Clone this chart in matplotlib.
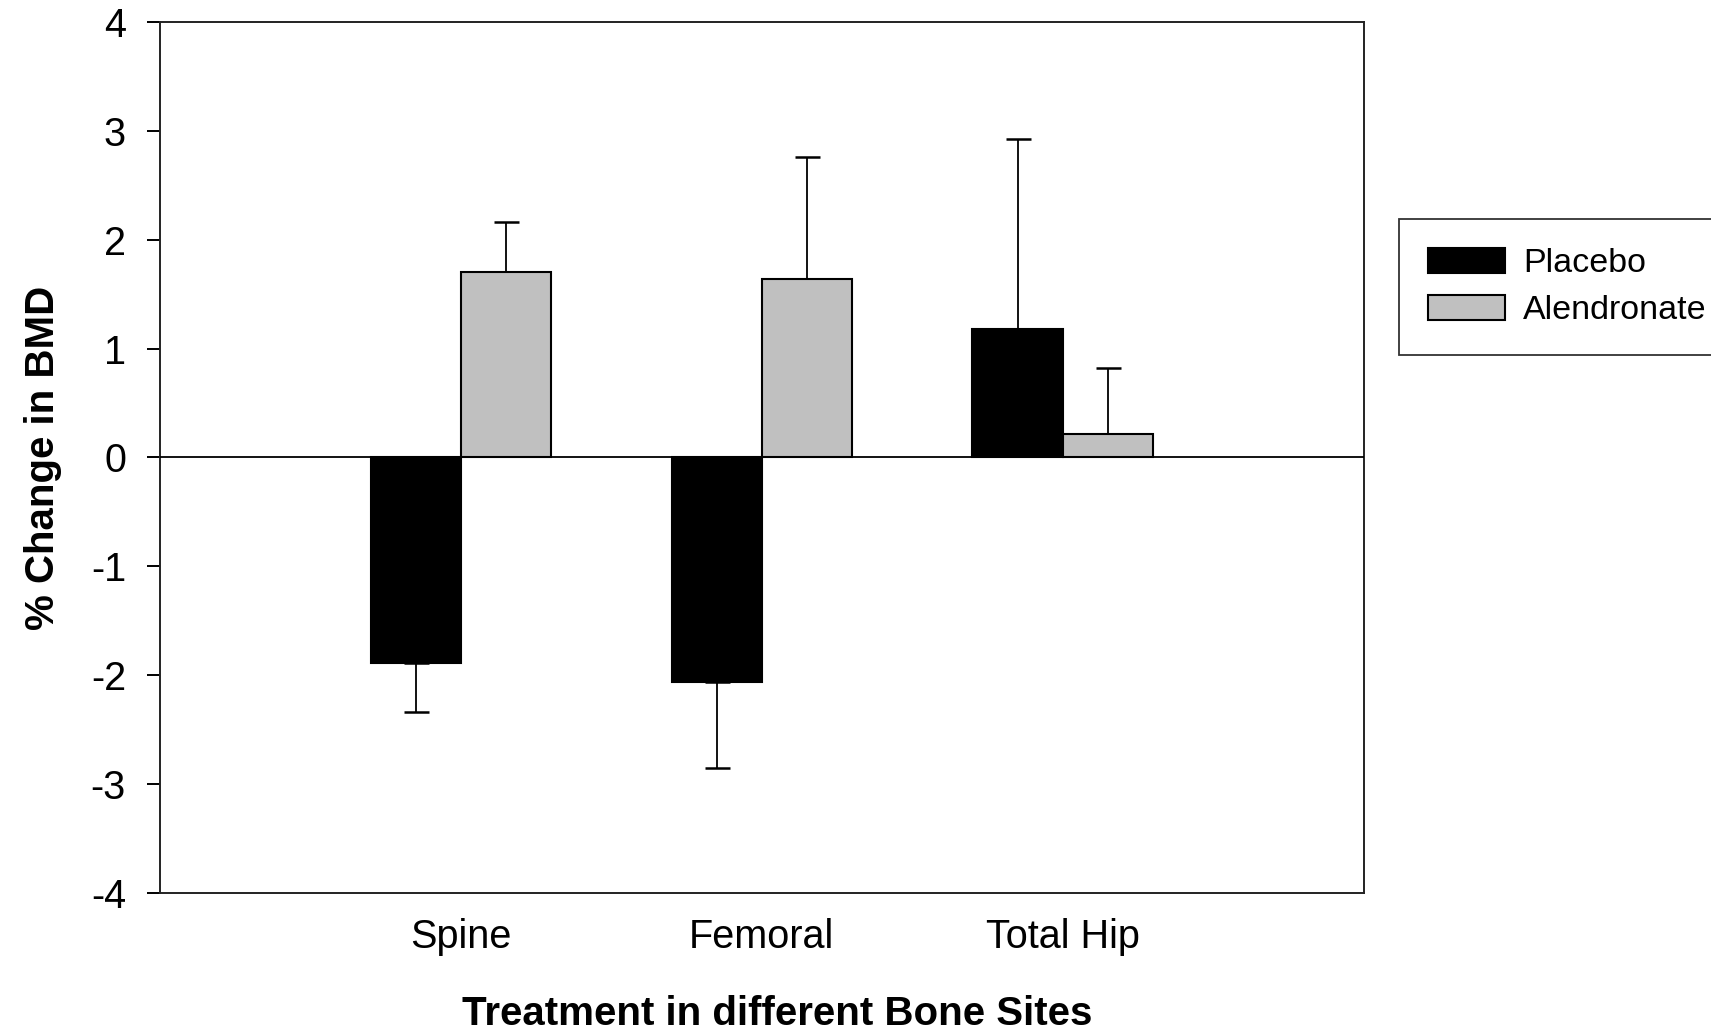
import numpy as np
import matplotlib
matplotlib.use("Agg")
import matplotlib.pyplot as plt

plt.rcParams['font.family'] = ['Liberation Sans', 'DejaVu Sans']

# data
sites = ['Spine', 'Femoral', 'Total Hip']
placebo = [-1.89, -2.06, 1.18]
placebo_err = [0.45, 0.79, 1.75]
alendronate = [1.70, 1.64, 0.22]
alendronate_err = [0.46, 1.12, 0.60]
yticks = [-4, -3, -2, -1, 0, 1, 2, 3, 4]

def one_sided(vals, errs):
    '''
        error bars only point away from zero
    '''
    lo = [e if v < 0 else 0 for v, e in zip(vals, errs)]
    hi = [e if v >= 0 else 0 for v, e in zip(vals, errs)]
    return [lo, hi]

fig = plt.figure(figsize=(17.11, 10.34), dpi=100)
ax = fig.add_axes([0.0935, 0.1364, 0.7035, 0.8423])

x = np.arange(len(sites))
w = 0.30

for off, vals, errs, col, lab in [(-w/2, placebo, placebo_err, 'black', 'Placebo'),
                                  (w/2, alendronate, alendronate_err, '#c0c0c0', 'Alendronate')]:
    ax.errorbar(x + off, vals, yerr=one_sided(vals, errs), fmt='none', ecolor='black',
                elinewidth=1.3, capsize=9, capthick=1.8, zorder=1)
    ax.bar(x + off, vals, width=w, color=col, edgecolor='black', linewidth=1.5,
           label=lab, zorder=2)

ax.axhline(0, color='black', linewidth=1.3, zorder=3)

ax.set_xlim(-1, 3)
ax.set_ylim(-4, 4)
ax.set_yticks(yticks)
ax.set_yticklabels([str(t) for t in yticks])
ax.set_xticks(x)
ax.set_xticklabels(sites)
ax.tick_params(axis='y', direction='out', length=9.5, width=1.4, pad=15, labelsize=28.5)
ax.tick_params(axis='x', length=0, pad=18, labelsize=28.5)
for s in ax.spines.values():
    s.set_linewidth(1.4)
    s.set_color('#222222')

ax.set_xlabel('Treatment in different Bone Sites', fontsize=29, fontweight='bold', labelpad=28)
ax.xaxis.label.set_x(0.513)
ax.set_ylabel('% Change in BMD', fontsize=29, fontweight='bold', labelpad=21)

leg = fig.legend(loc='upper left', bbox_to_anchor=(0.8177, 0.788), bbox_transform=fig.transFigure,
                 fontsize=24.5, frameon=True, fancybox=False, edgecolor='black',
                 borderpad=0.85, handlelength=2.25, handleheight=0.75, handletextpad=0.55,
                 labelspacing=0.45, borderaxespad=0)
leg.get_frame().set_linewidth(1.3)

fig.savefig('out.png', dpi=100)
